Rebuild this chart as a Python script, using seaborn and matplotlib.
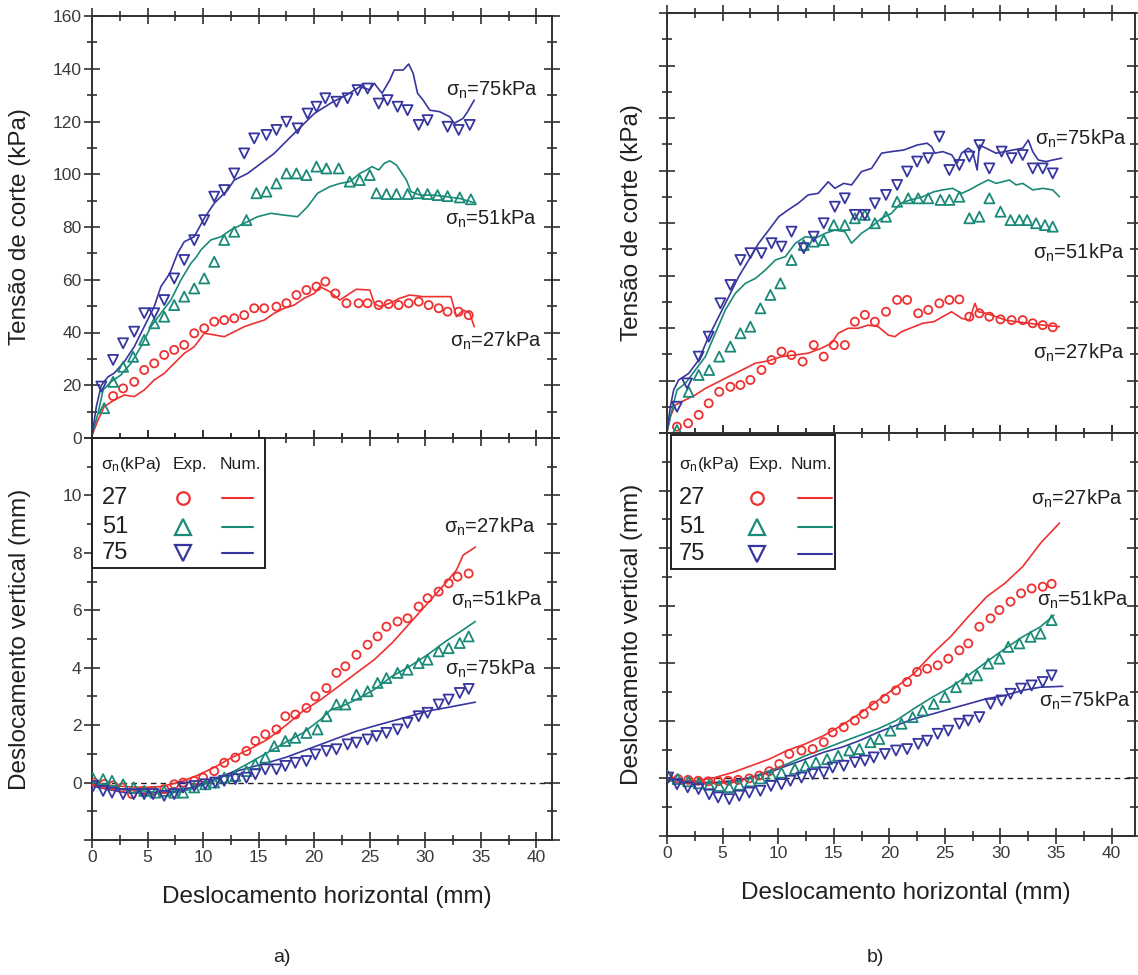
import numpy as np
import matplotlib
matplotlib.use("Agg")
import matplotlib.pyplot as plt
from matplotlib.patches import Rectangle
import seaborn as sns

# ---------------------------------------------------------------- data
# (a) shear stress (kPa) vs horizontal displacement (mm)
A_TAU_NUM27_X = [0, 0.54, 1.1, 2.0, 2.9, 3.8, 4.7, 5.6, 6.5, 7.4, 8.3, 9.2, 10.1, 11.0, 11.9, 12.8, 13.7, 14.6, 15.5, 16.4, 17.3, 18.2, 19.1, 20.0, 20.5, 21.4, 22.3, 23.2, 23.8, 25.0, 25.4, 25.9, 26.8, 27.7, 28.6, 29.8, 31.0, 32.3, 32.8, 33.4, 34.0, 34.4]
A_TAU_NUM27_Y = [1, 6.8, 11.9, 14.4, 16.3, 15.7, 18.2, 22.0, 24.5, 28.3, 32.1, 34.6, 39.7, 39.1, 38.4, 40.3, 42.2, 43.5, 44.7, 47.3, 49.2, 50.4, 53.0, 54.8, 57.4, 55.5, 52.3, 54.8, 56.4, 56.1, 51.1, 49.8, 51.1, 53.0, 54.2, 53.6, 53.6, 53.6, 46.0, 48.5, 47.3, 42.2]
A_TAU_EXP27_X = [1.9, 2.8, 3.8, 4.7, 5.6, 6.5, 7.4, 8.3, 9.2, 10.1, 11.0, 11.9, 12.8, 13.7, 14.6, 15.5, 16.6, 17.5, 18.4, 19.3, 20.2, 21.0, 21.9, 22.9, 24.0, 24.8, 25.8, 26.7, 27.6, 28.5, 29.4, 30.3, 31.2, 32.0, 33.0, 33.9]
A_TAU_EXP27_Y = [15.9, 18.8, 21.3, 25.8, 28.3, 31.5, 33.4, 35.3, 39.7, 41.6, 44.1, 44.7, 45.4, 46.6, 49.2, 49.2, 49.8, 51.1, 54.2, 56.1, 57.4, 59.3, 54.8, 51.1, 51.1, 51.1, 50.4, 50.8, 50.4, 51.1, 51.7, 50.4, 49.2, 47.9, 47.9, 46.6]
A_TAU_NUM51_X = [0, 0.54, 1.0, 1.7, 2.6, 3.5, 4.4, 5.3, 6.2, 7.1, 8.0, 8.9, 9.4, 9.8, 10.7, 11.6, 12.5, 13.7, 14.9, 16.1, 17.3, 18.5, 19.4, 20.3, 21.4, 22.3, 23.2, 24.1, 24.7, 25.2, 25.8, 26.3, 26.8, 27.4, 28.3, 28.7, 29.5, 30.7, 31.9, 33.1, 34.4]
A_TAU_NUM51_Y = [1, 9.4, 18.2, 21.3, 23.9, 28.3, 34.6, 42.2, 47.3, 52.3, 59.9, 66.2, 68.7, 71.3, 75.1, 76.3, 78.9, 81.4, 83.9, 85.2, 84.5, 83.9, 87.7, 92.8, 95.3, 96.5, 97.2, 100.3, 101.6, 102.9, 101.6, 104.1, 105.1, 103.5, 97.8, 93.4, 92.1, 92.1, 91.5, 90.8, 89.2]
A_TAU_EXP51_X = [1.1, 1.9, 2.8, 3.7, 4.7, 5.6, 6.5, 7.4, 8.3, 9.2, 10.1, 11.0, 11.9, 12.8, 13.9, 14.8, 15.7, 16.6, 17.5, 18.4, 19.3, 20.2, 21.1, 22.2, 23.2, 24.1, 25.0, 25.6, 26.5, 27.4, 28.4, 29.3, 30.2, 31.1, 32.0, 33.1, 34.1]
A_TAU_EXP51_Y = [11.3, 21.3, 27.0, 30.8, 37.2, 43.5, 46.0, 50.4, 53.6, 56.7, 60.5, 66.8, 75.1, 78.2, 82.6, 92.8, 93.4, 96.5, 100.3, 100.3, 99.7, 102.9, 102.2, 102.2, 97.2, 97.8, 99.7, 92.8, 92.5, 92.5, 92.5, 92.8, 92.5, 92.1, 91.7, 91.2, 90.5]
A_TAU_NUM75_X = [0, 0.39, 0.84, 1.44, 2.0, 2.9, 3.8, 4.7, 5.6, 6.2, 7.0, 7.7, 8.3, 9.2, 10.1, 11.0, 12.2, 12.8, 14.0, 15.2, 16.4, 17.6, 18.8, 20.0, 21.2, 21.7, 22.9, 24.1, 25.0, 25.4, 26.1, 26.8, 27.2, 28.0, 28.5, 28.9, 29.3, 29.8, 30.4, 31.3, 32.2, 32.6, 33.4, 33.8, 34.4]
A_TAU_NUM75_Y = [1, 11.9, 20, 23.2, 24.6, 28.9, 34.6, 42.2, 49.8, 57.4, 62.4, 70, 74.4, 76.3, 83.3, 89, 94, 97.8, 100.3, 104.1, 107.9, 113, 118, 123, 126.2, 127.5, 130, 133.2, 132, 134.5, 130.7, 135.7, 139.5, 139.5, 141.8, 138.3, 130.7, 128.1, 124.3, 123.7, 121.8, 119.3, 121.2, 123.7, 128.1]
A_TAU_EXP75_X = [0.84, 1.9, 2.8, 3.8, 4.7, 5.6, 6.5, 7.4, 8.3, 9.2, 10.1, 11.0, 11.9, 12.8, 13.7, 14.6, 15.7, 16.6, 17.5, 18.5, 19.4, 20.2, 21.0, 22.0, 23.0, 23.9, 24.8, 25.8, 26.6, 27.5, 28.4, 29.4, 30.2, 32.0, 33.0, 34.0]
A_TAU_EXP75_Y = [19.5, 29.6, 35.9, 40.3, 47.3, 47.3, 52.3, 60.5, 67.5, 75.0, 82.6, 91.5, 94.0, 100.3, 107.9, 113.6, 114.9, 116.8, 119.9, 117.4, 123.0, 125.6, 128.8, 127.5, 128.8, 131.9, 132.5, 126.8, 128.1, 125.6, 124.3, 118.7, 120.5, 118.0, 116.8, 118.7]

# (a) vertical displacement (mm) vs horizontal displacement (mm)
A_DV_NUM27_X = [0, 1.35, 2.95, 4.55, 6.16, 7.76, 9.36, 10.97, 12.57, 14.18, 15.78, 17.38, 18.99, 20.59, 22.19, 23.8, 25.4, 27.0, 28.6, 30.2, 31.8, 32.8, 33.4, 34.5]
A_DV_NUM27_Y = [-0.06, -0.09, -0.14, -0.17, -0.14, 0.0, 0.23, 0.52, 0.87, 1.16, 1.5, 1.97, 2.49, 2.89, 3.35, 3.82, 4.28, 4.86, 5.55, 6.24, 6.94, 7.4, 7.92, 8.2]
A_DV_EXP27_X = [0.2, 1.1, 1.9, 2.7, 3.6, 4.6, 5.5, 6.5, 7.4, 8.2, 9.2, 10.0, 11.0, 11.9, 12.9, 13.9, 14.7, 15.6, 16.6, 17.4, 18.3, 19.3, 20.1, 21.1, 22.0, 22.8, 23.8, 24.8, 25.7, 26.5, 27.5, 28.4, 29.4, 30.2, 31.2, 32.1, 32.9, 33.9]
A_DV_EXP27_Y = [0.0, -0.05, -0.1, -0.17, -0.4, -0.29, -0.29, -0.23, -0.06, 0.0, 0.06, 0.17, 0.40, 0.69, 0.87, 1.10, 1.45, 1.68, 1.85, 2.31, 2.37, 2.60, 3.0, 3.29, 3.82, 4.05, 4.45, 4.8, 5.09, 5.43, 5.61, 5.72, 6.13, 6.42, 6.65, 6.94, 7.17, 7.28]
A_DV_NUM51_X = [0, 1.35, 2.95, 4.55, 6.16, 7.76, 9.36, 10.97, 12.57, 14.18, 15.78, 17.38, 18.99, 20.59, 21.5, 22.5, 23.8, 25.4, 27.0, 28.6, 30.2, 31.8, 33.4, 34.5]
A_DV_NUM51_Y = [-0.12, -0.17, -0.23, -0.29, -0.35, -0.35, -0.17, 0.06, 0.35, 0.69, 1.04, 1.39, 1.73, 2.2, 2.54, 2.66, 2.89, 3.24, 3.7, 4.05, 4.45, 4.91, 5.32, 5.61]
A_DV_EXP51_X = [0.06, 1.0, 1.8, 2.8, 3.75, 4.7, 5.7, 6.5, 7.4, 8.2, 9.2, 10.2, 11.0, 11.9, 12.9, 13.9, 14.7, 15.6, 16.4, 17.4, 18.3, 19.3, 20.3, 21.1, 22.0, 22.8, 23.8, 24.8, 25.7, 26.5, 27.5, 28.4, 29.4, 30.2, 31.2, 32.1, 33.1, 33.9]
A_DV_EXP51_Y = [0.17, 0.12, 0.06, -0.06, -0.17, -0.29, -0.35, -0.29, -0.35, -0.35, -0.17, -0.06, 0.0, 0.17, 0.23, 0.40, 0.64, 0.87, 1.27, 1.45, 1.56, 1.73, 1.85, 2.31, 2.72, 2.72, 3.06, 3.18, 3.47, 3.64, 3.82, 3.93, 4.16, 4.28, 4.57, 4.68, 4.86, 5.09]
A_DV_NUM75_X = [0, 1.35, 2.95, 4.55, 6.16, 7.76, 9.36, 10.97, 12.57, 14.18, 15.78, 17.38, 18.99, 20.59, 22.19, 23.8, 25.4, 27.0, 28.6, 30.2, 31.8, 33.4, 34.5]
A_DV_NUM75_Y = [-0.12, -0.23, -0.35, -0.37, -0.35, -0.29, -0.12, 0.12, 0.35, 0.52, 0.69, 0.87, 1.1, 1.33, 1.56, 1.79, 1.97, 2.14, 2.31, 2.49, 2.6, 2.72, 2.8]
A_DV_EXP75_X = [0.1, 1.0, 1.8, 2.8, 3.75, 4.7, 5.5, 6.5, 7.4, 8.2, 9.2, 10.2, 11.1, 11.9, 12.9, 13.9, 14.7, 15.6, 16.6, 17.4, 18.3, 19.3, 20.1, 21.1, 22.0, 23.0, 23.8, 24.8, 25.6, 26.5, 27.5, 28.4, 29.4, 30.2, 31.2, 32.1, 33.1, 33.9]
A_DV_EXP75_Y = [-0.12, -0.29, -0.35, -0.4, -0.4, -0.4, -0.4, -0.46, -0.4, -0.17, -0.12, -0.06, 0.0, 0.06, 0.12, 0.17, 0.29, 0.46, 0.46, 0.58, 0.69, 0.75, 0.98, 1.1, 1.16, 1.33, 1.39, 1.5, 1.62, 1.73, 1.85, 2.08, 2.31, 2.43, 2.72, 2.89, 3.12, 3.26]

# (b) shear stress (kPa) vs horizontal displacement (mm)
B_TAU_NUM27_X = [0, 0.3, 0.75, 1.65, 2.55, 3.45, 4.35, 5.55, 6.75, 7.95, 9.15, 10.3, 11.5, 12.7, 13.9, 14.8, 15.4, 16.3, 17.2, 18.1, 19.0, 19.9, 20.5, 21.1, 23.0, 24.0, 24.8, 25.6, 26.5, 27.2, 27.7, 28.0, 28.7, 29.6, 30.5, 31.4, 32.6, 33.8, 35.3]
B_TAU_NUM27_Y = [0.5, 6.2, 10.7, 12.6, 14.5, 17.0, 18.9, 21.5, 24.0, 26.6, 27.5, 29.1, 29.7, 30.4, 32.3, 34.2, 38.0, 39.9, 39.9, 41.1, 40.5, 37.3, 36.7, 38.6, 41.8, 42.4, 44.3, 46.2, 43.7, 43.0, 49.4, 46.2, 45.6, 44.3, 43.0, 42.4, 41.8, 41.1, 40.5]
B_TAU_EXP27_X = [0.9, 1.9, 2.85, 3.75, 4.7, 5.7, 6.6, 7.5, 8.5, 9.4, 10.3, 11.2, 12.2, 13.2, 14.1, 15.0, 16.0, 16.9, 17.8, 18.7, 19.7, 20.7, 21.6, 22.6, 23.5, 24.5, 25.4, 26.3, 27.2, 28.1, 29.0, 30.0, 31.0, 32.0, 32.9, 33.8, 34.7]
B_TAU_EXP27_Y = [2.4, 3.7, 6.9, 11.3, 15.7, 17.6, 18.3, 20.2, 24.0, 27.8, 31.0, 29.7, 27.2, 33.5, 29.1, 33.5, 33.5, 42.4, 45.0, 42.4, 46.2, 50.7, 50.7, 45.6, 46.9, 49.4, 50.7, 50.9, 44.3, 45.6, 44.3, 43.3, 43.0, 43.0, 41.8, 41.1, 40.3]
B_TAU_NUM51_X = [0, 0.45, 0.9, 1.65, 2.55, 3.45, 4.35, 5.25, 6.15, 7.05, 7.95, 8.85, 9.75, 10.65, 11.55, 12.45, 13.35, 14.25, 15.1, 16.0, 16.6, 17.5, 18.4, 19.3, 20.2, 21.0, 21.9, 23.0, 24.0, 24.8, 25.7, 26.5, 27.2, 28.0, 28.9, 29.6, 30.2, 30.8, 31.4, 32.0, 32.9, 33.8, 34.7, 35.3]
B_TAU_NUM51_Y = [0.5, 8.8, 16.4, 18.9, 24.0, 29.1, 38.0, 46.9, 53.2, 57.0, 58.9, 62.1, 65.9, 67.2, 72.3, 74.8, 74.2, 76.1, 77.3, 76.7, 72.3, 76.1, 78.6, 81.8, 83.7, 87.5, 88.8, 90.0, 91.9, 92.6, 93.2, 91.3, 92.6, 94.5, 96.4, 95.1, 95.7, 96.4, 94.5, 95.1, 92.6, 93.2, 92.6, 90.0]
B_TAU_EXP51_X = [0.9, 1.95, 2.85, 3.8, 4.7, 5.7, 6.6, 7.5, 8.4, 9.3, 10.2, 11.2, 12.3, 13.2, 14.1, 15.0, 16.0, 16.9, 17.8, 18.7, 19.7, 20.7, 21.7, 22.6, 23.5, 24.6, 25.4, 26.3, 27.2, 28.1, 29.0, 30.0, 30.9, 31.7, 32.4, 33.2, 34.0, 34.7]
B_TAU_EXP51_Y = [1.1, 15.7, 22.1, 24.0, 29.1, 32.9, 38.0, 40.5, 47.5, 52.6, 57.0, 65.9, 71.6, 72.9, 73.5, 79.2, 79.2, 81.8, 83.1, 79.9, 82.4, 88.1, 89.4, 89.4, 89.4, 88.8, 88.8, 90.0, 81.8, 82.4, 89.4, 84.3, 81.1, 81.1, 81.1, 79.9, 79.2, 78.6]
B_TAU_NUM75_X = [0, 0.3, 0.6, 1.05, 1.95, 2.85, 3.75, 4.65, 5.55, 6.45, 7.35, 8.25, 9.15, 10.05, 10.9, 11.8, 12.7, 13.6, 14.5, 15.1, 15.9, 16.6, 17.5, 18.4, 19.3, 20.2, 21.3, 22.5, 23.4, 23.8, 24.1, 24.8, 25.6, 26.1, 26.5, 27.1, 27.5, 27.9, 28.1, 28.7, 29.6, 30.4, 31.1, 32.0, 32.5, 32.9, 33.4, 34.1, 34.7, 35.5]
B_TAU_NUM75_Y = [0.5, 10, 16.4, 20.2, 22.7, 27.8, 36.7, 44.3, 51.9, 59.6, 65.9, 72.3, 77.3, 82.4, 85.0, 87.5, 90.7, 91.3, 95.7, 93.2, 95.1, 94.5, 99.6, 100.8, 106.6, 107.2, 107.8, 109.7, 110.4, 109.1, 106.6, 107.2, 106.0, 102.8, 106.6, 108.5, 107.2, 100.2, 109.7, 108.5, 106.6, 107.2, 107.8, 108.5, 111.6, 107.2, 104.0, 103.4, 104.0, 104.7]
B_TAU_EXP75_X = [0.9, 1.8, 2.85, 3.75, 4.8, 5.7, 6.6, 7.5, 8.5, 9.4, 10.3, 11.2, 12.3, 13.2, 14.1, 15.1, 16.0, 16.9, 17.8, 18.7, 19.7, 20.7, 21.6, 22.5, 23.5, 24.5, 25.4, 26.3, 27.2, 28.1, 29.0, 30.1, 31.0, 32.0, 32.9, 33.8, 34.7]
B_TAU_EXP75_Y = [10, 18.9, 29.1, 36.7, 49.4, 56.4, 65.9, 68.5, 68.5, 72.3, 71.0, 76.7, 70.4, 74.8, 79.9, 86.2, 89.4, 83.1, 83.1, 87.5, 90.7, 94.5, 99.6, 103.4, 104.7, 112.9, 100.2, 102.1, 105.3, 109.7, 100.8, 107.2, 104.7, 105.9, 100.8, 100.8, 98.9]

# (b) vertical displacement (mm) vs horizontal displacement (mm)
B_DV_NUM27_X = [0, 1.04, 2.67, 4.3, 5.93, 7.56, 9.2, 10.8, 12.45, 14.1, 15.7, 17.3, 18.97, 20.6, 22.2, 23.9, 25.5, 27.1, 28.75, 30.4, 32.0, 33.6, 35.3]
B_DV_NUM27_Y = [-0.02, -0.08, -0.08, 0.03, 0.21, 0.44, 0.67, 0.97, 1.2, 1.49, 1.84, 2.24, 2.71, 3.17, 3.64, 4.34, 4.92, 5.62, 6.31, 6.78, 7.36, 8.17, 8.87]
B_DV_EXP27_X = [0.1, 1.0, 1.9, 2.8, 3.7, 4.6, 5.5, 6.4, 7.4, 8.3, 9.2, 10.1, 11.0, 12.1, 13.1, 14.1, 14.9, 15.9, 16.9, 17.7, 18.6, 19.6, 20.6, 21.6, 22.5, 23.4, 24.35, 25.3, 26.3, 27.1, 28.1, 29.1, 29.9, 30.9, 31.85, 32.8, 33.8, 34.6]
B_DV_EXP27_Y = [0.03, -0.02, -0.05, -0.08, -0.1, -0.1, -0.08, -0.05, 0.0, 0.1, 0.25, 0.5, 0.85, 0.97, 1.02, 1.26, 1.6, 1.78, 2.01, 2.24, 2.53, 2.77, 3.06, 3.35, 3.7, 3.81, 3.93, 4.16, 4.45, 4.69, 5.27, 5.56, 5.85, 6.14, 6.43, 6.6, 6.66, 6.76]
B_DV_NUM51_X = [0, 1.04, 2.67, 4.3, 5.93, 7.56, 9.2, 10.8, 12.45, 14.1, 15.7, 17.3, 18.97, 20.6, 22.2, 23.9, 25.5, 27.1, 28.75, 30.4, 32.0, 33.6, 34.8]
B_DV_NUM51_Y = [0.03, -0.08, -0.14, -0.17, -0.14, 0.03, 0.27, 0.5, 0.79, 1.02, 1.26, 1.49, 1.72, 2.01, 2.42, 2.83, 3.17, 3.58, 4.05, 4.51, 4.92, 5.27, 5.67]
B_DV_EXP51_X = [0.07, 0.95, 1.9, 2.85, 3.8, 4.7, 5.6, 6.5, 7.5, 8.4, 9.4, 10.3, 11.5, 12.45, 13.4, 14.4, 15.4, 16.4, 17.3, 18.3, 19.1, 20.1, 21.1, 22.1, 23.0, 24.0, 25.0, 26.0, 26.96, 27.9, 28.9, 29.9, 30.7, 31.7, 32.7, 33.6, 34.6]
B_DV_EXP51_Y = [0.09, -0.02, -0.1, -0.17, -0.22, -0.26, -0.3, -0.22, -0.1, 0.0, 0.1, 0.2, 0.33, 0.44, 0.56, 0.67, 0.79, 0.97, 1.02, 1.26, 1.37, 1.66, 1.9, 2.13, 2.36, 2.59, 2.83, 3.17, 3.47, 3.58, 3.99, 4.16, 4.57, 4.69, 4.92, 5.03, 5.5]
B_DV_NUM75_X = [0, 1.04, 2.67, 4.3, 5.93, 7.56, 9.2, 10.8, 12.45, 14.1, 15.7, 17.3, 18.97, 20.6, 22.2, 23.9, 25.5, 27.1, 28.75, 30.4, 32.0, 33.6, 35.6]
B_DV_NUM75_Y = [0.03, -0.08, -0.14, -0.14, -0.08, 0.03, 0.21, 0.44, 0.67, 0.91, 1.08, 1.31, 1.6, 1.84, 2.07, 2.24, 2.42, 2.59, 2.77, 2.88, 3.06, 3.17, 3.2]
B_DV_EXP75_X = [0.1, 0.9, 1.86, 2.84, 3.8, 4.6, 5.6, 6.5, 7.4, 8.4, 9.35, 10.3, 11.1, 12.1, 13.1, 14.1, 14.9, 15.9, 16.9, 17.8, 18.6, 19.6, 20.6, 21.6, 22.6, 23.4, 24.35, 25.3, 26.3, 27.1, 28.1, 29.1, 30.1, 30.9, 31.85, 32.8, 33.8, 34.6]
B_DV_EXP75_Y = [0.03, -0.2, -0.31, -0.37, -0.55, -0.66, -0.72, -0.6, -0.49, -0.43, -0.26, -0.2, -0.08, 0.03, 0.15, 0.21, 0.38, 0.44, 0.56, 0.62, 0.73, 0.85, 0.97, 1.02, 1.2, 1.31, 1.55, 1.66, 1.9, 2.01, 2.13, 2.59, 2.71, 2.94, 3.12, 3.23, 3.35, 3.58]

NORMAL_STRESSES = ["27", "51", "75"]
SERIES_COLORS = {"27": "#ee3030", "51": "#1a8a78", "75": "#36369e"}
EXP_MARKERS = {"27": "o", "51": "^", "75": "v"}
EXP_SIZES = {"27": 34, "51": 52, "75": 52}

X_TICK_LABELS = ["0", "5", "10", "15", "20", "25", "30", "35", "40"]
TAU_TICK_LABELS = ["0", "20", "40", "60", "80", "100", "120", "140", "160"]
DV_TICK_LABELS = ["", "0", "2", "4", "6", "8", "10", ""]

# ---------------------------------------------------------------- style
sns.set_theme(style="ticks")
plt.rcParams["font.family"] = ["Liberation Sans", "DejaVu Sans"]
plt.rcParams.update({
    "mathtext.fontset": "custom",
    "mathtext.rm": "Liberation Sans",
    "mathtext.it": "Liberation Sans:italic",
    "mathtext.bf": "Liberation Sans:bold",
    "mathtext.sf": "Liberation Sans",
    "axes.edgecolor": "#303030",
    "axes.linewidth": 1.4,
    "text.color": "#202020",
    "axes.labelcolor": "#202020",
    "xtick.color": "#303030",
    "ytick.color": "#303030",
})

TEXT_COLOR = "#202020"
W, H = 1138, 975
fig = plt.figure(figsize=(W / 100, H / 100), dpi=100)


def px_axes(left, top, right, bottom):
    return fig.add_axes([left / W, 1 - bottom / H, (right - left) / W, (bottom - top) / H])


def style_axes(ax, xmax, yticks, ylabels, yminor, show_x, show_y):
    ax.set_xlim(0, xmax)
    ax.set_ylim(yticks[0], yticks[-1])
    ax.set_xticks(np.arange(0, 41, 5))
    ax.set_xticks(np.arange(2.5, 41, 5), minor=True)
    ax.set_yticks(yticks)
    ax.set_yticks(yminor, minor=True)
    ax.set_xticklabels(X_TICK_LABELS if show_x else [""] * len(X_TICK_LABELS))
    ax.set_yticklabels(ylabels if show_y else [""] * len(ylabels))
    ax.tick_params(which="both", direction="inout", top=True, right=True,
                   width=1.2, labelsize=12.5, labelcolor="#3a3a3a", pad=2)
    ax.tick_params(which="major", length=11)
    ax.tick_params(which="minor", length=7)
    for s in ax.spines.values():
        s.set_visible(True)
    ax.set_facecolor("white")


def draw_series(ax, num_x, num_y, exp_x, exp_y, key):
    color = SERIES_COLORS[key]
    sns.lineplot(x=num_x, y=num_y, ax=ax, color=color, lw=1.2,
                 estimator=None, sort=False, zorder=3)
    sns.scatterplot(x=exp_x, y=exp_y, ax=ax, color=color, marker=EXP_MARKERS[key],
                    s=EXP_SIZES[key], zorder=4)
    pts = ax.collections[-1]
    pts.set_facecolor("none")
    pts.set_edgecolor(color)
    pts.set_linewidth(1.3)


def label_sigma(ax, x, y, value):
    ax.text(x, y, "σ$_{\\mathrm{n}}$=" + value + "kPa", fontsize=14.5,
            color=TEXT_COLOR, ha="left", va="center", zorder=6)


def draw_key(ax, box, header_y, header_x, rows_y, num_x, mark_x, line_x):
    x0, y0, x1, y1 = box
    ax.add_patch(Rectangle((x0, y0), x1 - x0, y1 - y0, transform=ax.transAxes,
                           facecolor="white", edgecolor="#202020", lw=1.4,
                           zorder=7, clip_on=False))
    for txt, hx in zip(["σ$_{\\mathrm{n}}$(kPa)", "Exp.", "Num."], header_x):
        ax.text(hx, header_y, txt, transform=ax.transAxes, fontsize=12.5,
                ha="center", va="center", color=TEXT_COLOR, zorder=8)
    for key, ry in zip(NORMAL_STRESSES, rows_y):
        color = SERIES_COLORS[key]
        ax.text(num_x, ry, key, transform=ax.transAxes, fontsize=17,
                ha="center", va="center", color=TEXT_COLOR, zorder=8)
        ax.plot([mark_x], [ry], transform=ax.transAxes, marker=EXP_MARKERS[key],
                ms=9 if key == "27" else 11, mfc="none", mec=color, mew=1.6,
                ls="", zorder=8, clip_on=False)
        ax.plot(line_x, [ry, ry], transform=ax.transAxes, color=color, lw=1.5,
                zorder=8, clip_on=False)


TAU_TICKS = np.arange(0, 161, 20)
TAU_MINOR = np.arange(10, 160, 20)
DV_TICKS = np.arange(-2, 13, 2)
DV_MINOR = np.arange(-1, 12, 2)

# ---------------------------------------------------------------- panel (a)
ax_at = px_axes(92, 16, 552, 438)
ax_ab = px_axes(92, 438, 552, 840)
# ---------------------------------------------------------------- panel (b)
ax_bt = px_axes(667, 13, 1135, 433)
ax_bb = px_axes(667, 433, 1135, 836)

tau_sets = {
    ax_at: [(A_TAU_NUM27_X, A_TAU_NUM27_Y, A_TAU_EXP27_X, A_TAU_EXP27_Y),
            (A_TAU_NUM51_X, A_TAU_NUM51_Y, A_TAU_EXP51_X, A_TAU_EXP51_Y),
            (A_TAU_NUM75_X, A_TAU_NUM75_Y, A_TAU_EXP75_X, A_TAU_EXP75_Y)],
    ax_bt: [(B_TAU_NUM27_X, B_TAU_NUM27_Y, B_TAU_EXP27_X, B_TAU_EXP27_Y),
            (B_TAU_NUM51_X, B_TAU_NUM51_Y, B_TAU_EXP51_X, B_TAU_EXP51_Y),
            (B_TAU_NUM75_X, B_TAU_NUM75_Y, B_TAU_EXP75_X, B_TAU_EXP75_Y)],
}
dv_sets = {
    ax_ab: [(A_DV_NUM27_X, A_DV_NUM27_Y, A_DV_EXP27_X, A_DV_EXP27_Y),
            (A_DV_NUM51_X, A_DV_NUM51_Y, A_DV_EXP51_X, A_DV_EXP51_Y),
            (A_DV_NUM75_X, A_DV_NUM75_Y, A_DV_EXP75_X, A_DV_EXP75_Y)],
    ax_bb: [(B_DV_NUM27_X, B_DV_NUM27_Y, B_DV_EXP27_X, B_DV_EXP27_Y),
            (B_DV_NUM51_X, B_DV_NUM51_Y, B_DV_EXP51_X, B_DV_EXP51_Y),
            (B_DV_NUM75_X, B_DV_NUM75_Y, B_DV_EXP75_X, B_DV_EXP75_Y)],
}

for ax, sets in list(tau_sets.items()) + list(dv_sets.items()):
    for key, (nx, ny, ex, ey) in zip(NORMAL_STRESSES, sets):
        draw_series(ax, nx, ny, ex, ey, key)

for ax in (ax_ab, ax_bb):
    ax.axhline(0, color="#202020", lw=1.0, ls=(0, (4, 3)), zorder=2)

style_axes(ax_at, 41.4, TAU_TICKS, TAU_TICK_LABELS, TAU_MINOR, False, True)
style_axes(ax_bt, 42.1, TAU_TICKS, TAU_TICK_LABELS, TAU_MINOR, False, False)
style_axes(ax_ab, 41.4, DV_TICKS, DV_TICK_LABELS, DV_MINOR, True, True)
style_axes(ax_bb, 42.1, DV_TICKS, DV_TICK_LABELS, DV_MINOR, True, False)

# axis titles
for ax, lx in ((ax_at, -0.1565), (ax_bt, -0.075)):
    ax.set_ylabel("Tensão de corte (kPa)", fontsize=17.5, va="center", ha="center")
    ax.yaxis.set_label_coords(lx, 0.5)
for ax, lx in ((ax_ab, -0.1565), (ax_bb, -0.075)):
    ax.set_ylabel("Deslocamento vertical (mm)", fontsize=17.5, va="center", ha="center")
    ax.yaxis.set_label_coords(lx, 0.5)
    ax.set_xlabel("Deslocamento horizontal (mm)", fontsize=17.5, va="center")
    ax.xaxis.set_label_coords(0.51, -0.142)

# curve annotations
label_sigma(ax_at, 31.9, 132.0, "75")
label_sigma(ax_at, 31.8, 83.0, "51")
label_sigma(ax_at, 32.2, 37.0, "27")
label_sigma(ax_ab, 31.7, 8.9, "27")
label_sigma(ax_ab, 32.3, 6.35, "51")
label_sigma(ax_ab, 31.8, 3.95, "75")
label_sigma(ax_bt, 33.1, 112.0, "75")
label_sigma(ax_bt, 32.9, 68.8, "51")
label_sigma(ax_bt, 32.9, 30.5, "27")
label_sigma(ax_bb, 32.7, 9.7, "27")
label_sigma(ax_bb, 33.3, 6.2, "51")
label_sigma(ax_bb, 33.5, 2.7, "75")

# keys
draw_key(ax_ab, (0.0, 0.677, 0.376, 1.0), 0.934, (0.085, 0.213, 0.322),
         (0.851, 0.779, 0.714), 0.05, 0.198, (0.283, 0.35))
draw_key(ax_bb, (0.0085, 0.6625, 0.359, 0.995), 0.921, (0.09, 0.212, 0.308),
         (0.839, 0.767, 0.70), 0.053, 0.192, (0.28, 0.353))

fig.text(282 / W, 1 - 958 / H, "a)", fontsize=14, ha="center", va="center", color=TEXT_COLOR)
fig.text(875 / W, 1 - 958 / H, "b)", fontsize=14, ha="center", va="center", color=TEXT_COLOR)

fig.savefig("out.png", dpi=100, facecolor="white")
